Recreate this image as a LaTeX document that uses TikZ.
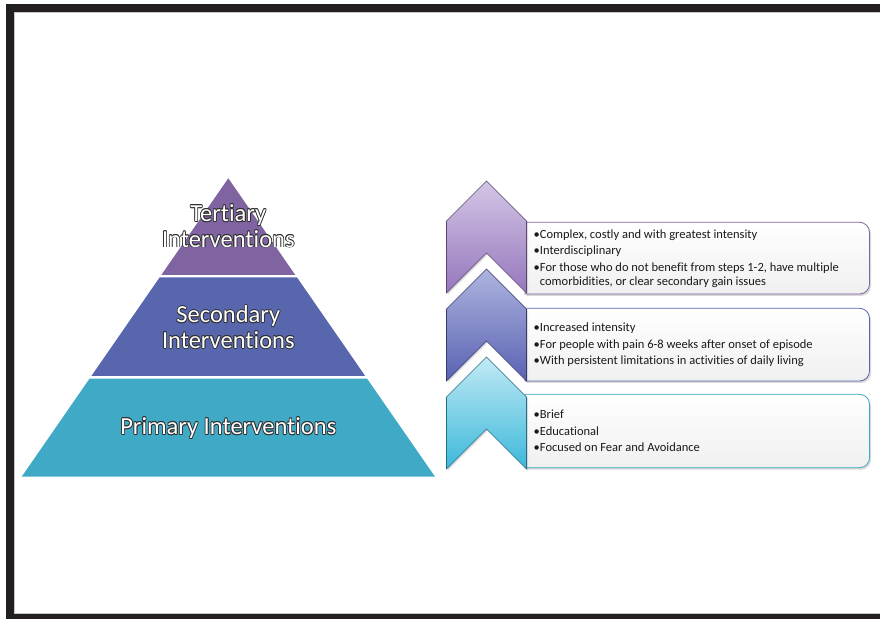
\documentclass[tikz,border=0pt]{standalone}
\usepackage{fontspec}
\setmainfont{Carlito}[Ligatures={NoCommon}]
\usepackage{xcolor}
\usepackage{tikz}
\usetikzlibrary{positioning,shadows}

\definecolor{framegray}{HTML}{231F20}
\definecolor{tertcol}{HTML}{8064A2}
\definecolor{seccol}{HTML}{5866AE}
\definecolor{primcol}{HTML}{40AAC6}
\definecolor{txtline}{HTML}{2E2E2E}
\definecolor{purpleL}{HTML}{D3C6E5}
\definecolor{purpleD}{HTML}{9677BD}
\definecolor{blueL}{HTML}{AEB4DE}
\definecolor{blueD}{HTML}{5A62B4}
\definecolor{cyanL}{HTML}{C2EAF5}
\definecolor{cyanD}{HTML}{3CB8DA}

% white letters with a thin dark rim
\newcommand{\outlined}[1]{\leavevmode
  \rlap{\textcolor{txtline}{\kern0.8pt#1}}%
  \rlap{\textcolor{txtline}{\kern-0.8pt#1}}%
  \rlap{\textcolor{txtline}{\raisebox{0.8pt}{#1}}}%
  \rlap{\textcolor{txtline}{\raisebox{-0.8pt}{#1}}}%
  \rlap{\textcolor{txtline}{\kern0.55pt\raisebox{0.55pt}{#1}}}%
  \rlap{\textcolor{txtline}{\kern-0.55pt\raisebox{0.55pt}{#1}}}%
  \rlap{\textcolor{txtline}{\kern0.55pt\raisebox{-0.55pt}{#1}}}%
  \rlap{\textcolor{txtline}{\kern-0.55pt\raisebox{-0.55pt}{#1}}}%
  \textcolor{white}{#1}}

\begin{document}
\begin{tikzpicture}[x=1pt, y=1pt, node distance=8.5pt,
  tierlabel/.style={font=\fontsize{24.5}{25.6}\selectfont, align=center, inner sep=0pt},
  chev/.style={line width=0.6pt, line join=miter,
    drop shadow={shadow xshift=1.5pt, shadow yshift=-1.5pt, opacity=0.25}},
  infobox/.style={line width=0.8pt, top color=white, bottom color=gray!12,
    drop shadow={shadow xshift=1.5pt, shadow yshift=-2pt, opacity=0.3}},
  info/.style={align=left, inner sep=0pt, text=black!90,
    font=\fontsize{12.5}{14.6}\selectfont}]
\useasboundingbox (0,0) rectangle (880,618);
\clip (0,0) rectangle (880,618);

% page frame
\fill[framegray] (6,-5) rectangle (890,614);
\fill[white] (13.5,4) rectangle (890,606.3);
\draw[gray!45, line width=0.7pt] (890,4.4) -- (14,4.4) -- (14,605.9) -- (890,605.9);

% pyramid
\fill[primcol] (21.7,141.3) -- (435,141.3) -- (367.1,239.3) -- (89.5,239.3) -- cycle;
\fill[seccol] (91.4,242) -- (365.2,242) -- (296.9,340.7) -- (159.7,340.7) -- cycle;
\fill[tertcol] (161.3,343) -- (295.3,343) -- (228.3,439.7) -- cycle;

\node[tierlabel] (tert) at (228.3,392) {\outlined{Tertiary}\\\outlined{Interventions}};
\node[tierlabel] (sec) at (228.3,291) {\outlined{Secondary}\\\outlined{Interventions}};
\node[tierlabel] (prim) at (228.3,190) {\outlined{Primary Interventions}};

% text boxes
\draw[infobox, draw=tertcol] (525,324) -- (525,395.7) -- (859.5,395.7)
  arc[start angle=90, end angle=0, radius=10] -- (869.5,334)
  arc[start angle=0, end angle=-90, radius=10] -- cycle;
\draw[infobox, draw=seccol] (525,237) -- (525,309.7) -- (859.5,309.7)
  arc[start angle=90, end angle=0, radius=10] -- (869.5,247)
  arc[start angle=0, end angle=-90, radius=10] -- cycle;
\draw[infobox, draw=primcol] (525,150.3) -- (525,223.7) -- (859.5,223.7)
  arc[start angle=90, end angle=0, radius=10] -- (869.5,160.3)
  arc[start angle=0, end angle=-90, radius=10] -- cycle;

\coordinate (tertbox) at (525,359.3);
\coordinate (secbox) at (525,273);
\coordinate (primbox) at (525,187);

\node[info, right=of tertbox] (tertinfo) {•Complex, costly and with greatest intensity\\[2pt]
  •Interdisciplinary\\[2pt]
  •For those who do not benefit from steps 1-2, have multiple\\
  \hphantom{•}comorbidities, or clear secondary gain issues};
\node[info, right=of secbox] (secinfo) {•Increased intensity\\[2pt]
  •For people with pain 6-8 weeks after onset of episode\\[2pt]
  •With persistent limitations in activities of daily living};
\node[info, right=of primbox] (priminfo) {•Brief\\[2pt]
  •Educational\\[2pt]
  •Focused on Fear and Avoidance};

% chevrons
\draw[chev, draw=purpleD!60!black, top color=purpleL, bottom color=purpleD]
  (486.5,437) -- (526.5,397) -- (526.5,325) -- (486.5,365) -- (446.5,325) -- (446.5,397) -- cycle;
\draw[chev, draw=blueD!60!black, top color=blueL, bottom color=blueD]
  (486.5,349) -- (526.5,309) -- (526.5,237) -- (486.5,277) -- (446.5,237) -- (446.5,309) -- cycle;
\draw[chev, draw=cyanD!60!black, top color=cyanL, bottom color=cyanD]
  (486.5,261) -- (526.5,221) -- (526.5,149) -- (486.5,189) -- (446.5,149) -- (446.5,221) -- cycle;
\end{tikzpicture}
\end{document}
